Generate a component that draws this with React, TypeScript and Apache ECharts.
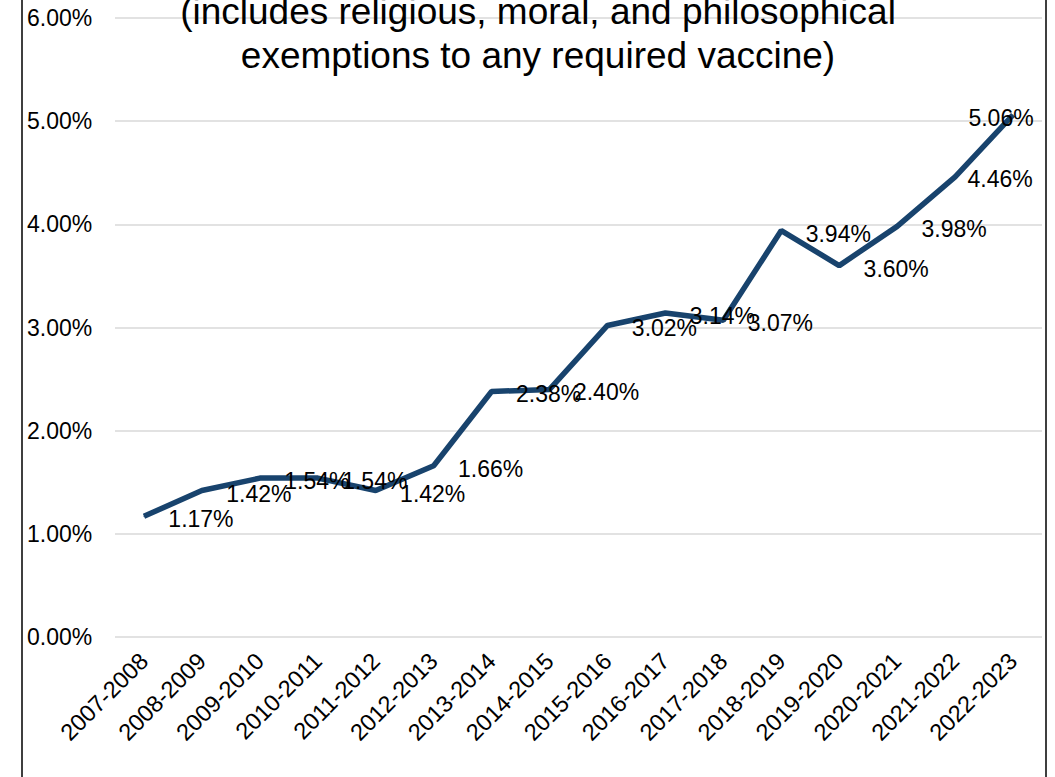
import React, { useEffect, useRef } from "react";
import * as echarts from "echarts";

const categories = [
  "2007-2008", "2008-2009", "2009-2010", "2010-2011", "2011-2012", "2012-2013",
  "2013-2014", "2014-2015", "2015-2016", "2016-2017", "2017-2018", "2018-2019",
  "2019-2020", "2020-2021", "2021-2022", "2022-2023",
];
const exemptionRates = [
  1.17, 1.42, 1.54, 1.54, 1.42, 1.66, 2.38, 2.4, 3.02, 3.14, 3.07, 3.94, 3.6, 3.98, 4.46, 5.06,
];
const titleLines = [
  "(includes religious, moral, and philosophical",
  "exemptions to any required vaccine)",
];

const FONT = "'Liberation Sans', Arial, Helvetica, sans-serif";

export default function App() {
  const ref = useRef<HTMLDivElement>(null);
  useEffect(() => {
    document.body.style.margin = "0";
    const chart = echarts.init(ref.current!, null, { renderer: "svg" });
    const n = exemptionRates.length;
    const data = exemptionRates.map((v, i) => {
      let offset = [57, 3];
      if (i === n - 2) offset = [45, 2];
      if (i === n - 1) offset = [-12, 3];
      return { value: v, label: { offset } };
    });
    chart.setOption({
      animation: false,
      backgroundColor: "#ffffff",
      textStyle: { fontFamily: FONT },
      grid: { left: 115, right: 13, top: 18, bottom: 140, containLabel: false },
      xAxis: {
        type: "category",
        data: categories,
        boundaryGap: true,
        axisLine: { show: false },
        axisTick: { show: false },
        axisLabel: {
          rotate: 45,
          interval: 0,
          margin: 20,
          color: "#000",
          fontSize: 23.5,
          fontFamily: FONT,
        },
      },
      yAxis: {
        type: "value",
        min: 0,
        max: 6,
        interval: 1,
        axisLine: { show: false },
        axisTick: { show: false },
        splitLine: { lineStyle: { color: "#d9d9d9", width: 1.5 } },
        axisLabel: {
          align: "left",
          margin: 88,
          color: "#000",
          fontSize: 23,
          fontFamily: FONT,
          formatter: (v: number) => v.toFixed(2) + "%",
        },
      },
      series: [
        {
          type: "line",
          data,
          symbol: "circle",
          symbolSize: 1,
          showSymbol: true,
          itemStyle: { color: "#18436D" },
          lineStyle: { color: "#18436D", width: 5.5 },
          label: {
            show: true,
            position: "inside",
            color: "#000",
            fontSize: 23,
            fontFamily: FONT,
            align: "center",
            verticalAlign: "middle",
            formatter: (p: any) => Number(p.value).toFixed(2) + "%",
          },
          z: 3,
        },
      ],
      graphic: [
        {
          type: "rect",
          shape: { x: 22, y: -10, width: 1024, height: 800 },
          style: { fill: "none", stroke: "#000", lineWidth: 1.5 },
          silent: true,
          z: 10,
        },
        {
          type: "text",
          x: 538,
          y: 11,
          style: {
            text: titleLines[0],
            fill: "#000",
            font: `37px ${FONT}`,
            textAlign: "center",
            textVerticalAlign: "middle",
          },
          z: 10,
        },
        {
          type: "text",
          x: 538,
          y: 55,
          style: {
            text: titleLines[1],
            fill: "#000",
            font: `37px ${FONT}`,
            textAlign: "center",
            textVerticalAlign: "middle",
          },
          z: 10,
        },
      ],
    });
    return () => chart.dispose();
  }, []);
  return (
    <div
      ref={ref}
      style={{ position: "fixed", left: 0, top: 0, width: 1055, height: 777 }}
    />
  );
}
